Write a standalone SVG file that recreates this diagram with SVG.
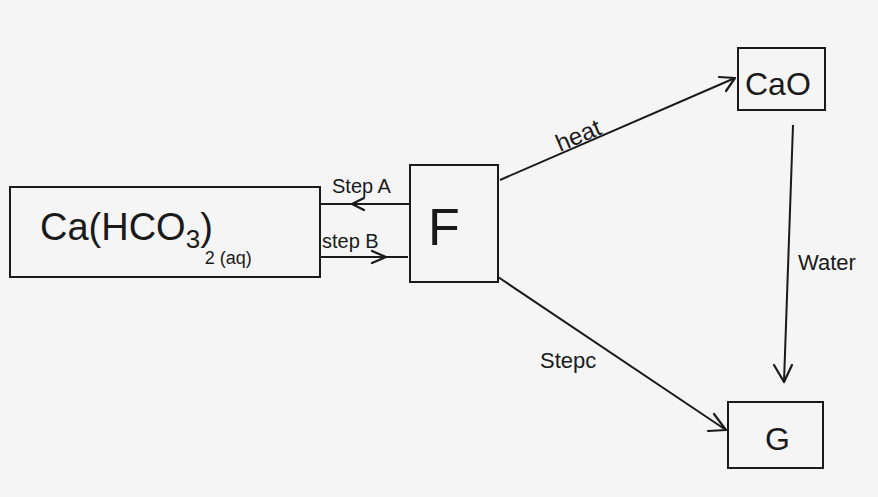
<svg xmlns="http://www.w3.org/2000/svg" width="878" height="497" viewBox="0 0 878 497">
<defs>
<style>
.box{fill:none;stroke:#1a1a1a;stroke-width:2}
.ln{fill:none;stroke:#1a1a1a;stroke-width:2}
.hd{fill:none;stroke:#1a1a1a;stroke-width:2.2;stroke-linecap:round;stroke-linejoin:round}
.t{font-family:"Liberation Sans",Arial,sans-serif;fill:#1a1a1a}
</style>
</defs>
<rect width="878" height="497" fill="#f5f5f5"/>
<g id="node-cahco3">
<rect class="box" x="10" y="187" width="310" height="90"/>
<text class="t" x="40" y="240" font-size="38">Ca(HCO<tspan font-size="26" dy="8">3</tspan><tspan dy="-8">)</tspan><tspan font-size="18" dy="24" dx="-8">2 (aq)</tspan></text>
</g>
<g id="node-f">
<rect class="box" x="410" y="165" width="88" height="117"/>
<text class="t" x="428" y="245" font-size="52">F</text>
</g>
<g id="node-cao">
<rect class="box" x="738" y="48" width="87" height="62"/>
<text class="t" x="745" y="95" font-size="32">CaO</text>
</g>
<g id="node-g">
<rect class="box" x="728" y="402" width="95" height="66"/>
<text class="t" x="765" y="450" font-size="32">G</text>
</g>
<g id="connectors">
<line class="ln" x1="410" y1="204" x2="320" y2="204"/>
<path class="hd" d="M364,198 L352,204 L364,210"/>
<text class="t" x="332" y="193" font-size="20">Step A</text>
<line class="ln" x1="320" y1="257" x2="408" y2="257"/>
<path class="hd" d="M372,251 L386,257 L372,263"/>
<text class="t" x="322" y="248" font-size="20">step B</text>
<line class="ln" x1="500" y1="180" x2="735" y2="78"/>
<path class="hd" d="M719,77 L735,78 L726,91"/>
<text class="t" x="560" y="152" font-size="24" transform="rotate(-23 560 152)">heat</text>
<line class="ln" x1="793" y1="125" x2="784" y2="382"/>
<path class="hd" d="M774,365 L784,382 L792,365"/>
<text class="t" x="798" y="270" font-size="22">Water</text>
<line class="ln" x1="498" y1="277" x2="726" y2="430"/>
<path class="hd" d="M714,414 L726,430 L708,431"/>
<text class="t" x="540" y="368" font-size="22">Stepc</text>
</g>
</svg>
